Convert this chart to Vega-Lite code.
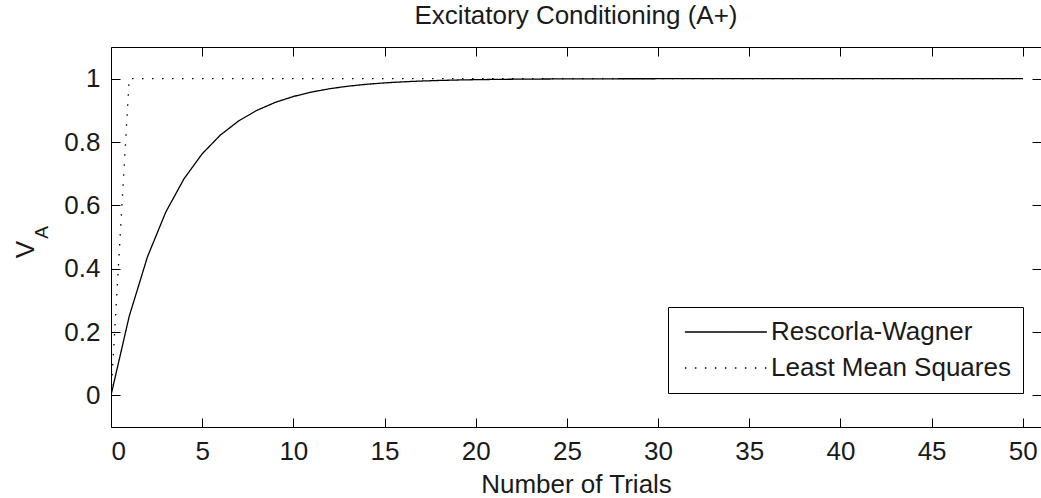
{
  "$schema": "https://vega.github.io/schema/vega-lite/v6.json",
  "autosize": {"type": "none"},
  "padding": {"left": 111, "top": 47, "right": 0, "bottom": 71},
  "width": 930,
  "height": 380,
  "background": "white",
  "config": {
    "font": "Liberation Sans",
    "view": {"stroke": "black", "strokeWidth": 1},
    "axis": {
      "grid": false,
      "domain": false,
      "tickColor": "black",
      "tickWidth": 1,
      "tickSize": -9,
      "labelFont": "Liberation Sans",
      "labelFontSize": 26,
      "labelColor": "#1a1a1a",
      "titleFont": "Liberation Sans",
      "titleFontWeight": "normal",
      "titleColor": "#1a1a1a"
    }
  },
  "title": {
    "text": "Excitatory Conditioning (A+)",
    "font": "Liberation Sans",
    "fontSize": 26,
    "fontWeight": "normal",
    "color": "#1a1a1a",
    "anchor": "middle",
    "baseline": "alphabetic",
    "offset": -3
  },
  "data": {
    "values": [
      {"trial": 0, "V": 0, "model": "Rescorla-Wagner"},
      {"trial": 1, "V": 0.25, "model": "Rescorla-Wagner"},
      {"trial": 2, "V": 0.4375, "model": "Rescorla-Wagner"},
      {"trial": 3, "V": 0.578125, "model": "Rescorla-Wagner"},
      {"trial": 4, "V": 0.683594, "model": "Rescorla-Wagner"},
      {"trial": 5, "V": 0.762695, "model": "Rescorla-Wagner"},
      {"trial": 6, "V": 0.822021, "model": "Rescorla-Wagner"},
      {"trial": 7, "V": 0.866516, "model": "Rescorla-Wagner"},
      {"trial": 8, "V": 0.899887, "model": "Rescorla-Wagner"},
      {"trial": 9, "V": 0.924915, "model": "Rescorla-Wagner"},
      {"trial": 10, "V": 0.943686, "model": "Rescorla-Wagner"},
      {"trial": 11, "V": 0.957765, "model": "Rescorla-Wagner"},
      {"trial": 12, "V": 0.968324, "model": "Rescorla-Wagner"},
      {"trial": 13, "V": 0.976243, "model": "Rescorla-Wagner"},
      {"trial": 14, "V": 0.982182, "model": "Rescorla-Wagner"},
      {"trial": 15, "V": 0.986637, "model": "Rescorla-Wagner"},
      {"trial": 16, "V": 0.989977, "model": "Rescorla-Wagner"},
      {"trial": 17, "V": 0.992483, "model": "Rescorla-Wagner"},
      {"trial": 18, "V": 0.994362, "model": "Rescorla-Wagner"},
      {"trial": 19, "V": 0.995772, "model": "Rescorla-Wagner"},
      {"trial": 20, "V": 0.996829, "model": "Rescorla-Wagner"},
      {"trial": 21, "V": 0.997622, "model": "Rescorla-Wagner"},
      {"trial": 22, "V": 0.998216, "model": "Rescorla-Wagner"},
      {"trial": 23, "V": 0.998662, "model": "Rescorla-Wagner"},
      {"trial": 24, "V": 0.998997, "model": "Rescorla-Wagner"},
      {"trial": 25, "V": 0.999248, "model": "Rescorla-Wagner"},
      {"trial": 26, "V": 0.999436, "model": "Rescorla-Wagner"},
      {"trial": 27, "V": 0.999577, "model": "Rescorla-Wagner"},
      {"trial": 28, "V": 0.999683, "model": "Rescorla-Wagner"},
      {"trial": 29, "V": 0.999762, "model": "Rescorla-Wagner"},
      {"trial": 30, "V": 0.999821, "model": "Rescorla-Wagner"},
      {"trial": 31, "V": 0.999866, "model": "Rescorla-Wagner"},
      {"trial": 32, "V": 0.9999, "model": "Rescorla-Wagner"},
      {"trial": 33, "V": 0.999925, "model": "Rescorla-Wagner"},
      {"trial": 34, "V": 0.999943, "model": "Rescorla-Wagner"},
      {"trial": 35, "V": 0.999958, "model": "Rescorla-Wagner"},
      {"trial": 36, "V": 0.999968, "model": "Rescorla-Wagner"},
      {"trial": 37, "V": 0.999976, "model": "Rescorla-Wagner"},
      {"trial": 38, "V": 0.999982, "model": "Rescorla-Wagner"},
      {"trial": 39, "V": 0.999987, "model": "Rescorla-Wagner"},
      {"trial": 40, "V": 0.99999, "model": "Rescorla-Wagner"},
      {"trial": 41, "V": 0.999992, "model": "Rescorla-Wagner"},
      {"trial": 42, "V": 0.999994, "model": "Rescorla-Wagner"},
      {"trial": 43, "V": 0.999996, "model": "Rescorla-Wagner"},
      {"trial": 44, "V": 0.999997, "model": "Rescorla-Wagner"},
      {"trial": 45, "V": 0.999998, "model": "Rescorla-Wagner"},
      {"trial": 46, "V": 0.999998, "model": "Rescorla-Wagner"},
      {"trial": 47, "V": 0.999999, "model": "Rescorla-Wagner"},
      {"trial": 48, "V": 0.999999, "model": "Rescorla-Wagner"},
      {"trial": 49, "V": 0.999999, "model": "Rescorla-Wagner"},
      {"trial": 50, "V": 1, "model": "Rescorla-Wagner"},
      {"trial": 0, "V": 0, "model": "Least Mean Squares"},
      {"trial": 1, "V": 1, "model": "Least Mean Squares"},
      {"trial": 5, "V": 1, "model": "Least Mean Squares"},
      {"trial": 10, "V": 1, "model": "Least Mean Squares"},
      {"trial": 15, "V": 1, "model": "Least Mean Squares"},
      {"trial": 20, "V": 1, "model": "Least Mean Squares"},
      {"trial": 25, "V": 1, "model": "Least Mean Squares"},
      {"trial": 30, "V": 1, "model": "Least Mean Squares"},
      {"trial": 35, "V": 1, "model": "Least Mean Squares"},
      {"trial": 40, "V": 1, "model": "Least Mean Squares"},
      {"trial": 45, "V": 1, "model": "Least Mean Squares"},
      {"trial": 50, "V": 1, "model": "Least Mean Squares"}
    ]
  },
  "layer": [
    {
      "mark": {"type": "line", "color": "black", "strokeWidth": 1.3, "clip": true},
      "encoding": {
        "x": {
          "field": "trial", "type": "quantitative",
          "scale": {"domain": [0, 51], "nice": false, "zero": false},
          "axis": {
            "orient": "bottom",
            "values": [0, 5, 10, 15, 20, 25, 30, 35, 40, 45, 50],
            "format": "~g",
            "labelPadding": 20,
            "title": "Number of Trials",
            "titleFontSize": 26,
            "titleBaseline": "alphabetic",
            "titleY": 65
          }
        },
        "y": {
          "field": "V", "type": "quantitative",
          "scale": {"domain": [-0.1, 1.1], "nice": false, "zero": false},
          "axis": {
            "orient": "left",
            "values": [0, 0.2, 0.4, 0.6, 0.8, 1],
            "format": "~g",
            "labelPadding": 20,
            "title": "V",
            "titleFontSize": 26,
            "titleAngle": -90,
            "titleAlign": "center",
            "titleBaseline": "alphabetic",
            "titleX": -78,
            "titleY": 202
          }
        },
        "strokeDash": {
          "field": "model", "type": "nominal",
          "scale": {
            "domain": ["Rescorla-Wagner", "Least Mean Squares"],
            "range": [[1, 0], [1.5, 8.5]]
          },
          "legend": {
            "title": null,
            "orient": "none",
            "legendX": 557,
            "legendY": 260,
            "direction": "vertical",
            "strokeColor": "black",
            "fillColor": "white",
            "padding": 12,
            "rowPadding": 10,
            "symbolType": "M-1,0H19",
            "symbolSize": 67.24,
            "symbolOffset": -4,
            "symbolStrokeWidth": 1.3,
            "symbolStrokeColor": "black",
            "labelOffset": 69,
            "labelFont": "Liberation Sans",
            "labelFontSize": 26,
            "labelColor": "#1a1a1a",
            "labelLimit": 400
          }
        }
      }
    },
    {
      "mark": {"type": "line", "strokeOpacity": 0, "clip": true},
      "encoding": {
        "x": {
          "field": "trial", "type": "quantitative",
          "axis": {
            "orient": "top",
            "values": [0, 5, 10, 15, 20, 25, 30, 35, 40, 45, 50],
            "labels": false,
            "title": null
          }
        },
        "y": {
          "field": "V", "type": "quantitative",
          "axis": {
            "orient": "right",
            "values": [0, 0.2, 0.4, 0.6, 0.8, 1],
            "labels": false,
            "title": "A",
            "titleFontSize": 19,
            "titleAngle": -90,
            "titleAlign": "center",
            "titleBaseline": "alphabetic",
            "titleX": -994,
            "titleY": 185
          }
        }
      }
    }
  ],
  "resolve": {"axis": {"x": "independent", "y": "independent"}}
}
